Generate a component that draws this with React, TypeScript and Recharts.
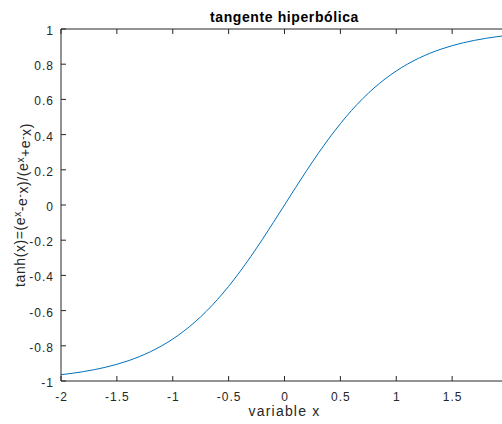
import React from "react";
import { LineChart, Line, XAxis, YAxis, Label } from "recharts";

const xValues = [
  -2.0, -1.9, -1.8, -1.7, -1.6, -1.5, -1.4, -1.3, -1.2, -1.1, -1.0, -0.9, -0.8, -0.7,
  -0.6, -0.5, -0.4, -0.3, -0.2, -0.1, 0.0, 0.1, 0.2, 0.3, 0.4, 0.5, 0.6, 0.7, 0.8,
  0.9, 1.0, 1.1, 1.2, 1.3, 1.4, 1.5, 1.6, 1.7, 1.8, 1.9, 2.0,
];
const yValues = [
  -0.964, -0.9562, -0.9468, -0.9354, -0.9217, -0.9051, -0.8854, -0.8617, -0.8337,
  -0.8005, -0.7616, -0.7163, -0.664, -0.6044, -0.537, -0.4621, -0.3799, -0.2913,
  -0.1974, -0.0997, 0.0, 0.0997, 0.1974, 0.2913, 0.3799, 0.4621, 0.537, 0.6044,
  0.664, 0.7163, 0.7616, 0.8005, 0.8337, 0.8617, 0.8854, 0.9051, 0.9217, 0.9354,
  0.9468, 0.9562, 0.964,
];
const xTicks = [-2, -1.5, -1, -0.5, 0, 0.5, 1, 1.5];
const yTicks = [-1, -0.8, -0.6, -0.4, -0.2, 0, 0.2, 0.4, 0.6, 0.8, 1];

const data = xValues.map((x, i) => ({ x, y: yValues[i] }));

const FONT = "'Liberation Sans', Arial, Helvetica, sans-serif";
const AXIS = "#262626";
const TICK_LEN = 5;
const X_MARGIN = 11;
const Y_MARGIN = 8;

const fmt = (v: number) => String(v);

const BottomTick = (props: any) => {
  const { x, y, payload } = props;
  const axisY = y - X_MARGIN;
  return (
    <g>
      <line x1={x} x2={x} y1={axisY} y2={axisY - TICK_LEN} stroke={AXIS} strokeWidth={1} />
      <text
        x={x + 0.5}
        y={y}
        dy="0.71em"
        textAnchor="middle"
        fill={AXIS}
        fontSize={12}
        letterSpacing={1}
        fontFamily={FONT}
      >
        {fmt(payload.value)}
      </text>
    </g>
  );
};

const TopTick = (props: any) => {
  const { x, y } = props;
  return <line x1={x} x2={x} y1={y} y2={y + TICK_LEN} stroke={AXIS} strokeWidth={1} />;
};

const LeftTick = (props: any) => {
  const { x, y, payload } = props;
  const axisX = x + Y_MARGIN;
  return (
    <g>
      <line x1={axisX} x2={axisX + TICK_LEN} y1={y} y2={y} stroke={AXIS} strokeWidth={1} />
      <text
        x={x + 1}
        y={y}
        dy="0.5em"
        textAnchor="end"
        fill={AXIS}
        fontSize={12}
        letterSpacing={1}
        fontFamily={FONT}
      >
        {fmt(payload.value)}
      </text>
    </g>
  );
};

const YLabel = (props: any) => {
  const vb = props.viewBox || {};
  const cx = 25;
  const cy = (vb.y ?? 29) + (vb.height ?? 352) / 2;
  return (
    <text
      x={cx}
      y={cy}
      transform={`rotate(-90, ${cx}, ${cy})`}
      textAnchor="middle"
      fill={AXIS}
      fontSize={14}
      letterSpacing={0.6}
      fontFamily={FONT}
    >
      <tspan>tanh(x)=(e</tspan>
      <tspan dy="-0.4em" fontSize={10}>x</tspan>
      <tspan dy="0.4em">-e</tspan>
      <tspan dy="-0.4em" fontSize={10}>-</tspan>
      <tspan dy="0.4em">x)/(e</tspan>
      <tspan dy="-0.4em" fontSize={10}>x</tspan>
      <tspan dy="0.4em">+e</tspan>
      <tspan dy="-0.4em" fontSize={10}>-</tspan>
      <tspan dy="0.4em">x)</tspan>
    </text>
  );
};

const TitleLabel = (props: any) => {
  const vb = props.viewBox || {};
  const cx = (vb.x ?? 61) + (vb.width ?? 447) / 2;
  return (
    <text
      x={cx}
      y={21.5}
      textAnchor="middle"
      fill="#000"
      fontSize={14}
      fontWeight="bold"
      letterSpacing={0.6}
      fontFamily={FONT}
    >
      tangente hiperbólica
    </text>
  );
};

export default function App() {
  return (
    <div
      style={{
        position: "absolute",
        left: 0,
        top: 0,
        width: 502,
        height: 424,
        overflow: "hidden",
        background: "#fff",
      }}
    >
      <LineChart
        width={520}
        height={424}
        data={data}
        margin={{ top: 28, right: 12, bottom: 0, left: 0 }}
      >
        <XAxis
          dataKey="x"
          type="number"
          domain={[-2, 2]}
          ticks={xTicks}
          interval={0}
          height={43}
          tickSize={0}
          tickMargin={X_MARGIN}
          axisLine={{ stroke: AXIS, strokeWidth: 1 }}
          tick={<BottomTick />}
          allowDataOverflow
        >
          <Label
            value="variable x"
            position="insideBottom"
            offset={8}
            fill={AXIS}
            fontSize={14}
            letterSpacing={1.2}
            fontFamily={FONT}
          />
        </XAxis>
        <XAxis
          xAxisId="top"
          dataKey="x"
          type="number"
          orientation="top"
          domain={[-2, 2]}
          ticks={xTicks}
          interval={0}
          height={1}
          tickSize={0}
          tickMargin={0}
          axisLine={{ stroke: AXIS, strokeWidth: 1 }}
          tick={<TopTick />}
          allowDataOverflow
        >
          <Label content={<TitleLabel />} />
        </XAxis>
        <YAxis
          type="number"
          domain={[-1, 1]}
          ticks={yTicks}
          interval={0}
          width={61}
          tickSize={0}
          tickMargin={Y_MARGIN}
          axisLine={{ stroke: AXIS, strokeWidth: 1 }}
          tick={<LeftTick />}
          allowDataOverflow
        >
          <Label content={<YLabel />} />
        </YAxis>
        <Line
          dataKey="y"
          type="monotone"
          stroke="#0072BD"
          strokeWidth={1}
          dot={false}
          activeDot={false}
          isAnimationActive={false}
        />
      </LineChart>
    </div>
  );
}
